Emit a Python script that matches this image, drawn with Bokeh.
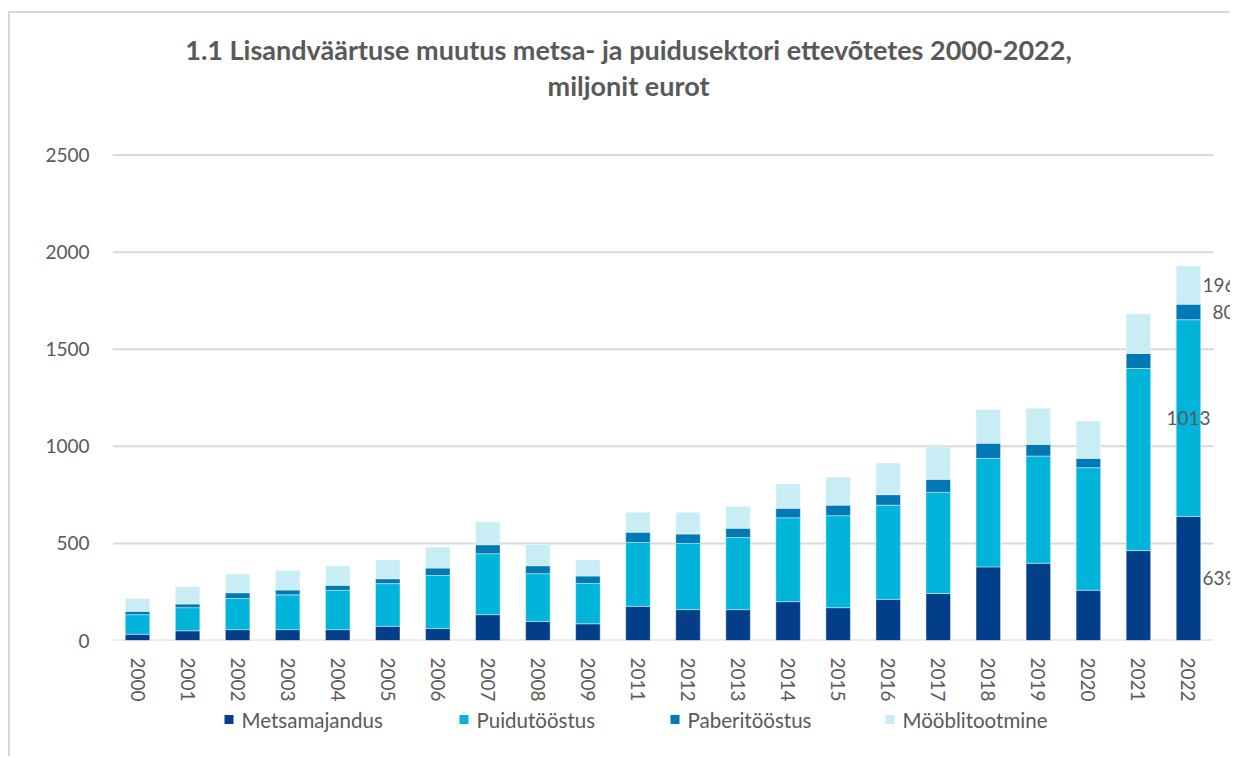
from bokeh.plotting import figure
from bokeh.models import Range1d, FixedTicker, Label, ColumnDataSource
from bokeh.core.properties import value
from bokeh.layouts import column
from bokeh.embed import file_html
from bokeh.resources import INLINE

years = ["2000", "2001", "2002", "2003", "2004", "2005", "2006", "2007", "2008", "2009",
         "2011", "2012", "2013", "2014", "2015", "2016", "2017", "2018", "2019", "2020",
         "2021", "2022"]
metsamajandus = [32, 50, 56, 56, 56, 73, 62, 133, 98, 86, 176, 159, 159, 200, 169, 212,
                 242, 379, 398, 259, 463, 639]
puidutoostus = [101, 119, 160, 179, 202, 220, 273, 314, 246, 208, 329, 341, 371, 432, 474,
                485, 521, 559, 552, 631, 938, 1013]
paberitoostus = [17, 19, 30, 25, 26, 25, 38, 46, 41, 38, 53, 48, 48, 49, 54, 54, 67, 78, 60,
                 48, 77, 80]
mooblitootmine = [66, 89, 96, 101, 101, 98, 108, 119, 109, 84, 102, 112, 113, 125, 145, 163,
                  167, 174, 186, 192, 205, 196]
series_names = ["Metsamajandus", "Puidutööstus", "Paberitööstus", "Mööblitootmine"]
y_ticks = [0, 500, 1000, 1500, 2000, 2500]
title_lines = ["1.1 Lisandväärtuse muutus metsa- ja puidusektori ettevõtetes 2000-2022,",
               "miljonit eurot"]

colors = ["#023E8A", "#00B4DA", "#0079B5", "#C9EDF5"]
FONT = "Lato"
TXT = "#595959"
GRID = "#d9d9d9"

# ---- layout (page pixels) ----
CANVAS_X, CANVAS_Y = 10, 13
W = 1222
SPLIT_Y = 704          # main figure bottom / legend strip top
PAGE_H = 758
GRID_LEFT, GRID_RIGHT = 112, 1213
ZERO_Y, TOP_TICK_Y = 642, 155
LEGEND_SWATCH_X = [224, 459, 670, 885]   # left edge of each legend swatch
LEGEND_CY = 721
SWATCH = 9

ymax_tick = y_ticks[-1]
px_per_unit = (ZERO_Y - TOP_TICK_Y) / ymax_tick
band = (GRID_RIGHT - GRID_LEFT) / len(years)
x_end = -0.5 + (CANVAS_X + W - GRID_LEFT) / band
y_end = (ZERO_Y - CANVAS_Y) / px_per_unit

def page_y(py):
    return (ZERO_Y - py) / px_per_unit

def page_x(px):
    return (px - GRID_LEFT) / band - 0.5

xs = list(range(len(years)))
source = ColumnDataSource(dict(x=xs, m=metsamajandus, p=puidutoostus,
                               b=paberitoostus, f=mooblitootmine))

p = figure(width=W, height=SPLIT_Y - CANVAS_Y, output_backend="svg", toolbar_location=None,
           x_range=Range1d(-0.5, x_end), y_range=Range1d(0, y_end),
           min_border_left=GRID_LEFT - CANVAS_X, min_border_right=0, min_border_top=0,
           min_border_bottom=SPLIT_Y - ZERO_Y)
p.styles = {"border-top": "2px solid #d9d9d9", "border-left": "2px solid #d9d9d9",
            "margin-top": "11px", "margin-left": "8px"}
p.outline_line_color = None
p.background_fill_color = "white"
p.border_fill_color = "white"

# gridlines (drawn across the category span only)
p.segment(x0=[-0.5] * len(y_ticks), x1=[len(years) - 0.5] * len(y_ticks),
          y0=y_ticks, y1=y_ticks, line_color=GRID, line_width=2)

rs = p.vbar_stack(["m", "p", "b", "f"], x="x", width=0.49, color=colors, source=source,
                  line_color="white", line_width=0.6, line_alpha=0.7)

# axes
p.yaxis.ticker = FixedTicker(ticks=y_ticks)
p.yaxis.axis_line_color = None
p.yaxis.major_tick_line_color = None
p.yaxis.minor_tick_line_color = None
p.yaxis.major_label_standoff = 17
p.yaxis.major_label_text_font = FONT
p.yaxis.major_label_text_font_size = "19px"
p.yaxis.major_label_text_color = TXT

p.xaxis.ticker = FixedTicker(ticks=xs)
p.xaxis.major_label_overrides = {i: y for i, y in enumerate(years)}
p.xaxis.major_label_orientation = -1.5708
p.xaxis.axis_line_color = None
p.xaxis.major_tick_line_color = None
p.xaxis.minor_tick_line_color = None
p.xaxis.major_label_standoff = 11
p.xaxis.major_label_text_font = FONT
p.xaxis.major_label_text_font_size = "19px"
p.xaxis.major_label_text_color = TXT

p.xgrid.grid_line_color = None
p.ygrid.grid_line_color = None

# title
tx = page_x(628)
for line, py in zip(title_lines, [49, 85]):
    p.add_layout(Label(x=tx, y=page_y(py), text=line,
                       text_align="center", text_baseline="middle", text_font=FONT,
                       text_font_style="bold", text_font_size="27px", text_color=TXT))

# data labels on last bar
i = len(years) - 1
vals = [metsamajandus[i], puidutoostus[i], paberitoostus[i], mooblitootmine[i]]
offsets = [(14, "left"), (0, "center"), (24, "left"), (14, "left")]
base = 0
for v, (xo, al) in zip(vals, offsets):
    p.add_layout(Label(x=i, y=base + v / 2, text=str(v), x_offset=xo, text_align=al,
                       text_baseline="middle", text_font=FONT, text_font_size="19px",
                       text_color=TXT))
    base += v

# ---- legend strip (page-pixel coordinates) ----
p2 = figure(width=W, height=PAGE_H - SPLIT_Y, output_backend="svg", toolbar_location=None,
            x_range=Range1d(GRID_LEFT, CANVAS_X + W), y_range=Range1d(PAGE_H, SPLIT_Y),
            x_axis_type=None, y_axis_type=None,
            min_border_left=GRID_LEFT - CANVAS_X, min_border_right=0,
            min_border_top=0, min_border_bottom=0)
p2.styles = {"border-left": "2px solid #d9d9d9", "margin-left": "8px"}
p2.outline_line_color = None
p2.xgrid.grid_line_color = None
p2.ygrid.grid_line_color = None
p2.border_fill_color = "white"
p2.background_fill_color = "white"

leg_src = ColumnDataSource(dict(
    sx=[x + SWATCH / 2 for x in LEGEND_SWATCH_X],
    tx=[x + SWATCH + 8 for x in LEGEND_SWATCH_X],
    y=[LEGEND_CY] * len(series_names),
    name=series_names, color=colors))
p2.rect(x="sx", y="y", width=SWATCH, height=SWATCH, fill_color="color",
        line_color=None, source=leg_src)
p2.text(x="tx", y="y", text="name", text_font=value(FONT), text_font_size="20.5px",
        text_color=TXT, text_baseline="middle", text_align="left", source=leg_src)

layout = column(p, p2, spacing=0)
open("out.html", "w").write(file_html(layout, INLINE))
